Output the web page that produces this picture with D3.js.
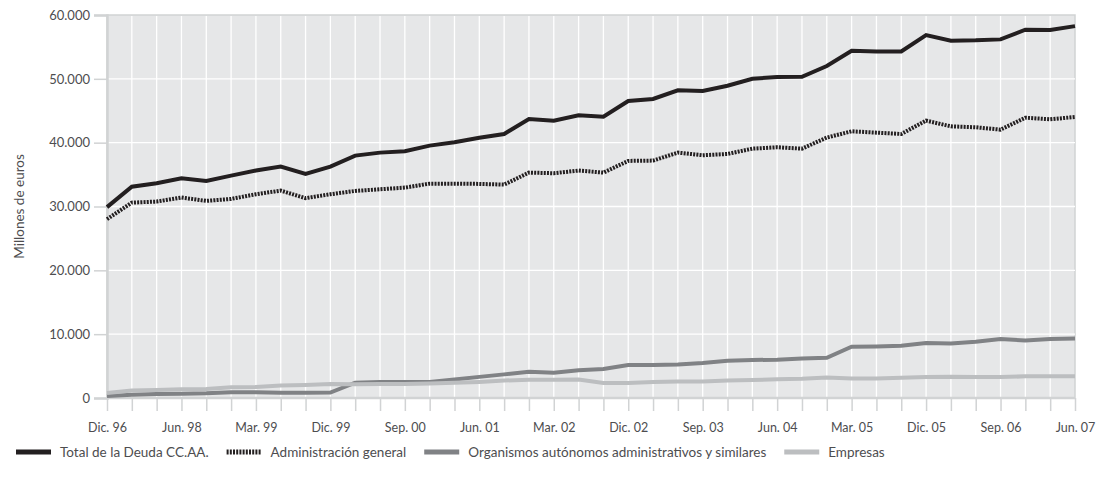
<!DOCTYPE html>
<html lang="es">

<head>
	<meta charset="utf-8">
	<title>deuda_ccaa</title>
	<style>
		body {
			margin: 0;
			background: #fff;
		}
	</style>
</head>

<body>
	<script src="https://cdn.jsdelivr.net/npm/d3@7"></script>
	<script>

		const categories = ["Dic. 96", "Jun. 97", "Dic. 97", "Jun. 98", "Sep. 98", "Dic. 98", "Mar. 99", "Jun. 99", "Sep. 99", "Dic. 99",
			"Mar. 00", "Jun. 00", "Sep. 00", "Dic. 00", "Mar. 01", "Jun. 01", "Sep. 01", "Dic. 01", "Mar. 02", "Jun. 02",
			"Sep. 02", "Dic. 02", "Mar. 03", "Jun. 03", "Sep. 03", "Dic. 03", "Mar. 04", "Jun. 04", "Sep. 04", "Dic. 04",
			"Mar. 05", "Jun. 05", "Sep. 05", "Dic. 05", "Mar. 06", "Jun. 06", "Sep. 06", "Dic. 06", "Mar. 07", "Jun. 07"];

		const total = [29900, 33100, 33650, 34430, 34000, 34840, 35630, 36250, 35100, 36250,
			37970, 38440, 38650, 39540, 40060, 40780, 41360, 43710, 43450, 44290,
			44070, 46530, 46840, 48200, 48090, 48920, 50020, 50280, 50330, 52000,
			54400, 54300, 54300, 56860, 55970, 56030, 56180, 57690, 57640, 58260];

		const adminGeneral = [28010, 30610, 30770, 31400, 30880, 31190, 31920, 32490, 31300, 31920,
			32440, 32700, 32960, 33580, 33580, 33540, 33430, 35310, 35210, 35630,
			35310, 37140, 37190, 38440, 38030, 38230, 39060, 39280, 39060, 40800,
			41780, 41570, 41360, 43450, 42560, 42410, 42040, 43910, 43660, 44020];

		const organismos = [300, 500, 630, 680, 740, 900, 890, 840, 840, 850,
			2400, 2500, 2520, 2520, 2890, 3310, 3700, 4100, 3950, 4350,
			4540, 5160, 5160, 5260, 5480, 5850, 5950, 6000, 6200, 6310,
			8030, 8080, 8190, 8600, 8550, 8810, 9230, 9020, 9230, 9330];

		const empresas = [790, 1160, 1260, 1370, 1420, 1680, 1740, 1950, 2050, 2200,
			2150, 2210, 2210, 2260, 2370, 2520, 2740, 2840, 2840, 2880,
			2340, 2340, 2500, 2600, 2600, 2730, 2810, 2920, 3020, 3230,
			3070, 3070, 3180, 3280, 3340, 3280, 3280, 3390, 3390, 3390];

		const yTicks = [0, 10000, 20000, 30000, 40000, 50000, 60000];

		const seriesNames = ["Total de la Deuda CC.AA.", "Administración general",
			"Organismos autónomos administrativos y similares", "Empresas"];

		const width = 1096;
		const height = 490;
		const margin = { top: 15, right: 21, bottom: 92, left: 107 };
		const font = "'Lato', sans-serif";
		const textColor = "#4d4d4f";

		const series = [
			{ name: seriesNames[2], values: organismos, color: "#808285", dash: null },
			{ name: seriesNames[3], values: empresas, color: "#bcbec0", dash: null },
			{ name: seriesNames[1], values: adminGeneral, color: "#231f20", dash: "2,1.2" },
			{ name: seriesNames[0], values: total, color: "#231f20", dash: null }
		];

		const x = d3.scalePoint()
			.domain(categories)
			.range([margin.left, width - margin.right]);

		const y = d3.scaleLinear()
			.domain([0, 60000])
			.range([height - margin.bottom, margin.top]);

		const fmt = (v) => {
			return d3.format(",")(v).replace(/,/g, ".");
		};

		const svg = d3.select(document.body)
			.append("svg")
			.attr("width", width)
			.attr("height", height)
			.style("font-family", font);

		// plot background
		svg.append("rect")
			.attr("x", margin.left)
			.attr("y", margin.top)
			.attr("width", width - margin.right - margin.left)
			.attr("height", y(0) - margin.top)
			.attr("fill", "#e6e7e8")
			.attr("stroke", "#d1d3d4")
			.attr("stroke-width", 1.5);

		// grid
		svg.append("g")
			.attr("stroke", "#fff")
			.attr("stroke-width", 1.3)
			.selectAll("line")
			.data(categories.slice(1, -1))
			.join("line")
			.attr("x1", (d) => x(d))
			.attr("x2", (d) => x(d))
			.attr("y1", margin.top + 1)
			.attr("y2", y(0));

		svg.append("g")
			.attr("stroke", "#fff")
			.attr("stroke-width", 1.3)
			.selectAll("line")
			.data(yTicks.slice(1, -1))
			.join("line")
			.attr("x1", margin.left)
			.attr("x2", width - margin.right)
			.attr("y1", (d) => y(d))
			.attr("y2", (d) => y(d));

		// x axis
		const xAxis = svg.append("g")
			.attr("transform", `translate(0,${y(0)})`)
			.call(d3.axisBottom(x)
				.tickSize(13)
				.tickFormat((d, i) => {
					return i % 3 === 0 ? d : "";
				}));

		xAxis.select(".domain")
			.attr("d", `M${margin.left},0H${width - margin.right}`)
			.attr("stroke", "#d1d3d4")
			.attr("stroke-width", 2.5);
		xAxis.selectAll(".tick line")
			.attr("stroke", "#d1d3d4")
			.attr("stroke-width", 1.5);
		xAxis.selectAll(".tick text")
			.attr("dy", 0)
			.attr("y", 34)
			.attr("fill", textColor)
			.attr("font-family", font)
			.attr("font-size", 12.5);

		// y axis
		const yAxis = svg.append("g")
			.attr("transform", `translate(${margin.left},0)`)
			.call(d3.axisLeft(y)
				.tickValues(yTicks)
				.tickSize(13)
				.tickPadding(4)
				.tickFormat(fmt));

		yAxis.select(".domain")
			.attr("stroke", "#d1d3d4")
			.attr("stroke-width", 2.5);
		yAxis.selectAll(".tick line")
			.attr("stroke", "#d1d3d4")
			.attr("stroke-width", 1.5);
		yAxis.selectAll(".tick text")
			.attr("fill", textColor)
			.attr("font-family", font)
			.attr("font-size", 13);

		svg.append("text")
			.attr("transform", `translate(24,${(margin.top + y(0)) / 2}) rotate(-90)`)
			.attr("text-anchor", "middle")
			.attr("fill", textColor)
			.attr("font-size", 13.5)
			.text("Millones de euros");

		// lines
		const line = d3.line()
			.x((d, i) => x(categories[i]))
			.y((d) => y(d));

		svg.append("g")
			.attr("fill", "none")
			.selectAll("path")
			.data(series)
			.join("path")
			.attr("stroke", (d) => d.color)
			.attr("stroke-width", 4)
			.attr("stroke-dasharray", (d) => d.dash)
			.attr("d", (d) => line(d.values));

		// legend
		const legendOrder = [series[3], series[2], series[0], series[1]];
		const legend = svg.append("g")
			.attr("transform", "translate(16,452)");

		let lx = 0;
		legendOrder.forEach((s) => {
			const item = legend.append("g")
				.attr("transform", `translate(${lx},0)`);
			item.append("line")
				.attr("x1", 0)
				.attr("x2", 35)
				.attr("stroke", s.color)
				.attr("stroke-width", 5)
				.attr("stroke-dasharray", s.dash);
			const t = item.append("text")
				.attr("x", 44)
				.attr("dy", "0.35em")
				.attr("fill", textColor)
				.attr("font-size", 13.5)
				.text(s.name);
			lx += 44 + t.node().getComputedTextLength() + 18;
		});
	</script>
</body>

</html>
